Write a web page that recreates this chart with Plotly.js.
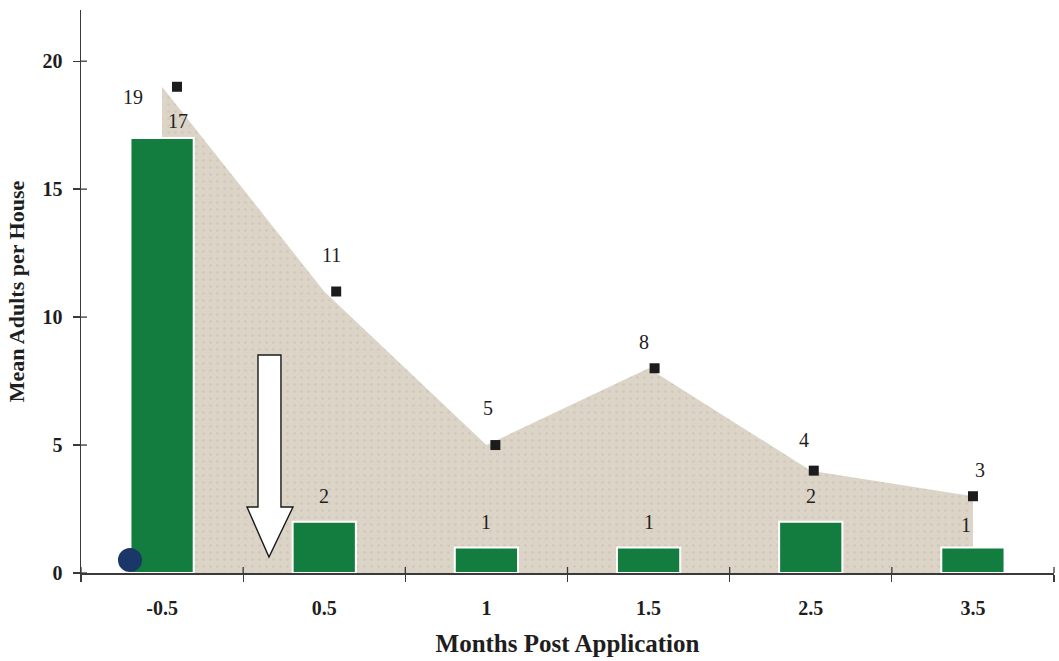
<!DOCTYPE html>
<html>
<head>
<meta charset="utf-8">
<script src="https://cdn.plot.ly/plotly-3.0.1.min.js"></script>
<style>
  html, body { margin: 0; padding: 0; background: #ffffff; }
  #chart { width: 1059px; height: 661px; }
</style>
</head>
<body>
<div id="chart"></div>
<script>
// Months after application (category labels on the x axis)
const months = ['-0.5', '0.5', '1', '1.5', '2.5', '3.5'];
// Mean adults per house, treated houses (bars)
const treated = [17, 2, 1, 1, 2, 1];
// Mean adults per house, untreated houses (area + markers)
const untreated = [19, 11, 5, 8, 4, 3];
const yTicks = [0, 5, 10, 15, 20];

// label offsets in pixels (presentation only)
const lineLabelShift = [[-29, -10], [7, 37], [2, 37], [-5, 26], [-7, 31], [7, 26]];
const barLabelShift = [[16, 17], [0, 26], [0, 25], [0, 25], [0, 26], [-7, 22]];

const serif = '"Liberation Serif", "DejaVu Serif", serif';
const ink = '#1e1e1e';
const axisColor = '#3a3a3a';

// shaded area sits on the base subplot so the bars (overlay) draw above it
const area = {
  type: 'scatter', mode: 'lines',
  x: months, y: untreated,
  xaxis: 'x', yaxis: 'y',
  fill: 'tozeroy',
  fillcolor: '#dcd4c7',
  fillpattern: { shape: '.', bgcolor: '#dcd4c7', fgcolor: '#d0c7b9', size: 7, solidity: 0.1 },
  line: { width: 0, color: 'rgba(0,0,0,0)' },
  hoverinfo: 'skip', showlegend: false
};

const points = {
  type: 'scatter', mode: 'markers',
  x: months, y: untreated,
  xaxis: 'x2', yaxis: 'y',
  marker: { symbol: 'square', size: 10, color: '#1c1c1c' },
  showlegend: false
};

const bars = {
  type: 'bar',
  x: months, y: treated,
  xaxis: 'x3', yaxis: 'y',
  width: 0.39,
  marker: { color: '#137c3f', line: { color: '#ffffff', width: 2 } },
  showlegend: false
};

const annotations = [];
months.forEach((m, i) => {
  annotations.push({
    x: i, y: untreated[i], xref: 'x', yref: 'y',
    text: String(untreated[i]), showarrow: false,
    xshift: lineLabelShift[i][0], yshift: lineLabelShift[i][1],
    font: { family: serif, size: 20, color: ink }
  });
  annotations.push({
    x: i, y: treated[i], xref: 'x', yref: 'y',
    text: String(treated[i]), showarrow: false,
    xshift: barLabelShift[i][0], yshift: barLabelShift[i][1],
    font: { family: serif, size: 20, color: ink }
  });
});

const shapes = [];
// inner halves of the crossing tick marks
for (let i = 0; i <= months.length; i++) {
  shapes.push({
    type: 'line', xref: 'paper', yref: 'y',
    x0: i / months.length, x1: i / months.length,
    ysizemode: 'pixel', yanchor: 0, y0: 0, y1: 6,
    line: { color: axisColor, width: 1.3 }
  });
}
yTicks.forEach(v => {
  shapes.push({
    type: 'line', xref: 'paper', yref: 'y',
    xsizemode: 'pixel', xanchor: 0, x0: 0, x1: 6,
    y0: v, y1: v,
    line: { color: axisColor, width: 1.3 }
  });
});
// downward arrow marking the application
shapes.push({
  type: 'path', xref: 'paper', yref: 'y',
  path: 'M 0.1819 8.52 L 0.2055 8.52 L 0.2055 2.58 L 0.2179 2.58 L 0.1932 0.62 L 0.1706 2.58 L 0.1819 2.58 Z',
  fillcolor: '#ffffff',
  line: { color: '#1a1a1a', width: 1.4 }
});
// dot at the origin of the series
shapes.push({
  type: 'circle', xref: 'paper', yref: 'y',
  x0: 0.0380, x1: 0.0627, y0: 0.04, y1: 0.98,
  fillcolor: '#1b3767', line: { width: 0 }
});

const layout = {
  width: 1059, height: 661,
  margin: { l: 81, r: 5, t: 10, b: 88 },
  paper_bgcolor: '#ffffff', plot_bgcolor: '#ffffff',
  showlegend: false,
  font: { family: serif, color: ink },
  xaxis: {
    type: 'category', categoryorder: 'array', categoryarray: months,
    range: [-0.5, 5.5], fixedrange: true,
    showgrid: false, zeroline: false,
    showline: true, linecolor: axisColor, linewidth: 1.5,
    ticks: 'outside', ticklen: 7, tickwidth: 1.3, tickcolor: axisColor,
    tickson: 'boundaries',
    ticklabelstandoff: 16,
    tickfont: { family: serif, size: 20, color: ink, weight: 'bold' },
    title: { text: 'Months Post Application', standoff: 17,
             font: { family: serif, size: 25, color: ink, weight: 'bold' } }
  },
  xaxis2: {
    type: 'category', categoryorder: 'array', categoryarray: months,
    overlaying: 'x', range: [-0.603, 5.509],
    visible: false, fixedrange: true
  },
  xaxis3: {
    type: 'category', categoryorder: 'array', categoryarray: months,
    overlaying: 'x', range: [-0.5, 5.5],
    visible: false, fixedrange: true
  },
  yaxis: {
    range: [0, 22], fixedrange: true,
    tickvals: yTicks, ticktext: yTicks.map(String),
    showgrid: false, zeroline: false,
    showline: true, linecolor: axisColor, linewidth: 1.5,
    ticks: 'outside', ticklen: 7, tickwidth: 1.3, tickcolor: axisColor,
    ticklabelstandoff: 6,
    tickfont: { family: serif, size: 20, color: ink, weight: 'bold' },
    title: { text: 'Mean Adults per House', standoff: 12,
             font: { family: serif, size: 22, color: ink, weight: 'bold' } }
  },
  annotations: annotations,
  shapes: shapes
};

Plotly.newPlot('chart', [area, points, bars], layout, { displayModeBar: false, staticPlot: true });
</script>
</body>
</html>
